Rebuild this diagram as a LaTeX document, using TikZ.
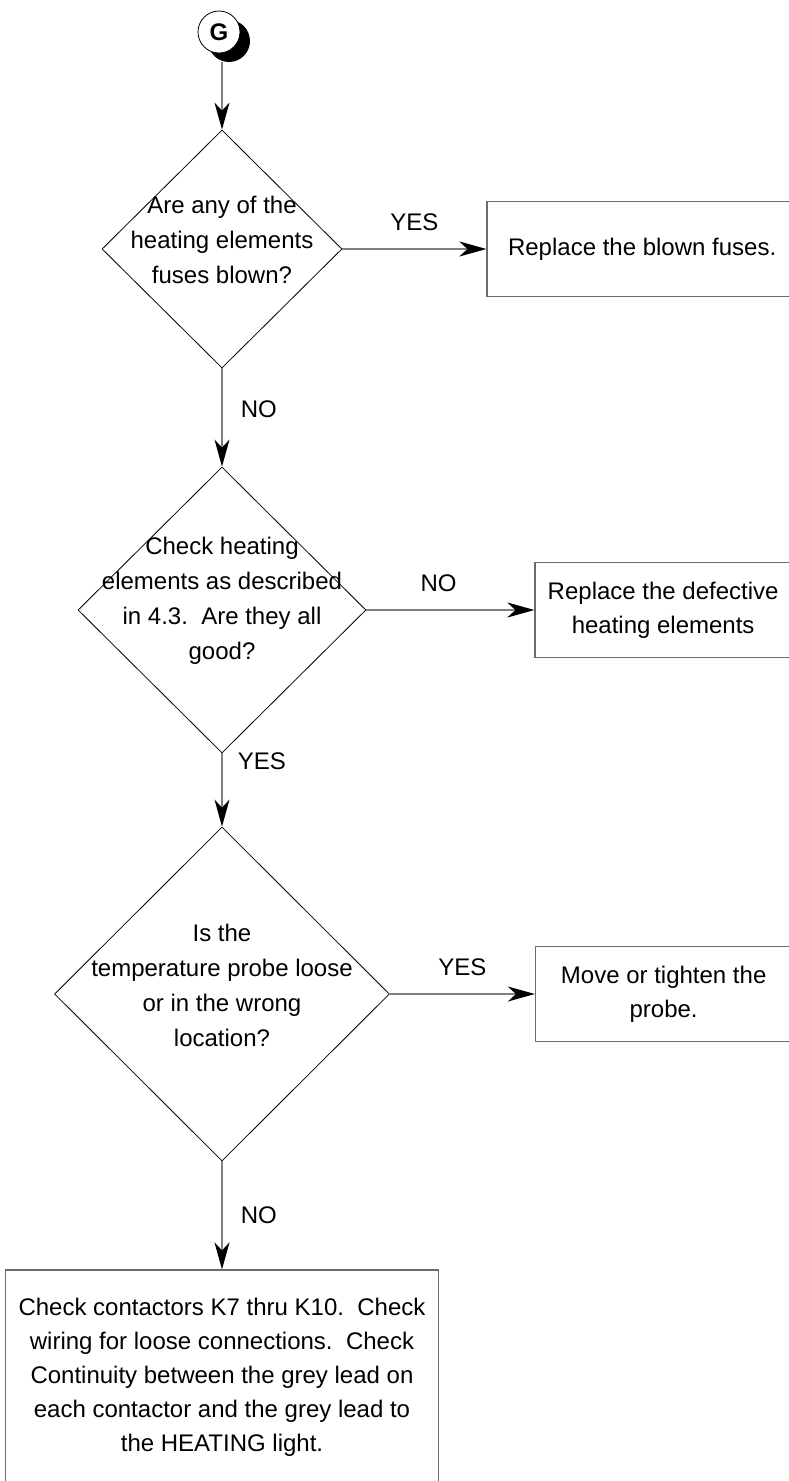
\documentclass[tikz,border=0pt]{standalone}
\usepackage{fontspec}
\setmainfont{Liberation Sans}
\usepackage{tikz}
\usetikzlibrary{shapes.geometric,positioning,arrows.meta,shadows}
\tikzset{>={Stealth[length=27pt,width=15pt,inset=8pt,color=black]}}

\begin{document}
\begin{tikzpicture}[x=1pt,y=-1pt,
connectornode/.style={circle, draw=black, fill=white, line width=0.8pt, minimum size=42pt, inner sep=0pt, font=\fontsize{24}{28}\selectfont\bfseries, drop shadow={shadow xshift=10pt, shadow yshift=-9pt, fill=black, opacity=1}},
decisionnode/.style={diamond, draw=black, line width=0.8pt, inner sep=0pt},
questiontext/.style={align=center, inner sep=0pt, yshift=9pt, font=\fontsize{24}{35}\selectfont},
squarednode/.style={rectangle, draw=gray!85!black, line width=1.5pt, align=center, minimum height=95pt, font=\fontsize{24}{34}\selectfont},
flowline/.style={->, draw=gray, line width=1.5pt},
answer/.style={inner sep=0pt, font=\fontsize{24}{28}\selectfont},
]
\useasboundingbox (0,0) rectangle (788,1481);
%Nodes
\node[connectornode] (ConnectorG) at (219,32) {G};
\node[decisionnode, minimum width=240pt, minimum height=238pt] (FusesBlown) at (222,249) {};
\node[decisionnode, minimum width=288pt, minimum height=286pt] (ElementsGood) at (222,610) {};
\node[decisionnode, minimum width=335pt, minimum height=334pt] (ProbeLoose) at (222,994) {};
\node[questiontext] (FusesBlownText) at (FusesBlown) {Are any of the\\heating elements\\fuses blown?};
\node[questiontext] (ElementsGoodText) at (ElementsGood) {Check heating\\elements as described\\in 4.3.\ \ Are they all\\good?};
\node[questiontext] (ProbeLooseText) at (ProbeLoose) {Is the\\temperature probe loose\\or in the wrong\\location?};
\node[squarednode, minimum width=310pt](ReplaceFuses)[right=144pt of FusesBlown]{Replace the blown fuses.};
\node[squarednode, minimum width=256pt](ReplaceElements)[right=168pt of ElementsGood]{Replace the defective\\heating elements};
\node[squarednode, minimum width=256pt](TightenProbe)[right=145pt of ProbeLoose]{Move or tighten the\\probe.};
\node[squarednode, minimum width=433pt, minimum height=214pt](CheckContactors)[below=108pt of ProbeLoose]{Check contactors K7 thru K10.\ \ Check\\wiring for loose connections.\ \ Check\\Continuity between the grey lead on\\each contactor and the grey lead to\\the HEATING light.};

%Connectors
\draw[flowline] ([yshift=-9pt]ConnectorG.south -| FusesBlown.north) -- (FusesBlown.north);
\draw[flowline] (FusesBlown) -- node[answer, above=18pt] (YesFuses) {YES} (ReplaceFuses);
\draw[flowline] (FusesBlown) -- node[answer, right=18pt, pos=0.42] (NoFuses) {NO} (ElementsGood);
\draw[flowline] (ElementsGood) -- node[answer, above=18pt, pos=0.43] (NoElements) {NO} (ReplaceElements);
\draw[flowline] (ElementsGood) -- node[answer, right=15pt, pos=0.1] (YesElements) {YES} (ProbeLoose);
\draw[flowline] (ProbeLoose) -- node[answer, above=18pt] (YesProbe) {YES} (TightenProbe);
\draw[flowline] (ProbeLoose) -- node[answer, right=18pt] (NoProbe) {NO} (CheckContactors);
\end{tikzpicture}
\end{document}
